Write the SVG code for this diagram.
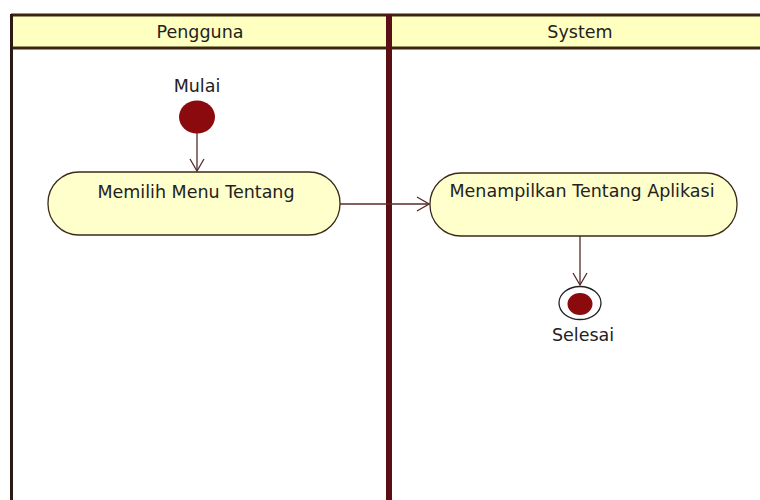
<svg xmlns="http://www.w3.org/2000/svg" width="760" height="500" viewBox="0 0 760 500">
<style>
.t{font-family:"DejaVu Sans","Liberation Sans",sans-serif;font-size:17.5px;fill:#222;text-anchor:middle}
.act{fill:#FFFFCC;stroke:#3a2a1a;stroke-width:1.3}
.con{stroke:#5a2a2a;stroke-width:1.3;fill:none}
</style>
<defs>
<marker id="arr" markerWidth="14" markerHeight="16" refX="13" refY="8" orient="auto" markerUnits="userSpaceOnUse">
<path d="M1,1 L13,8 L1,15" fill="none" stroke="#5a2a2a" stroke-width="1.3"/>
</marker>
</defs>
<rect width="760" height="500" fill="#fff"/>
<g id="lanes">
<rect x="11" y="15" width="749" height="33" fill="#FFFFC0"/>
<line x1="11" y1="15" x2="760" y2="15" stroke="#3c2410" stroke-width="3"/>
<line x1="11" y1="48" x2="760" y2="48" stroke="#3c2410" stroke-width="3"/>
<line x1="11.5" y1="14" x2="11.5" y2="500" stroke="#2e1a14" stroke-width="3"/>
<rect x="386" y="14" width="6" height="486" fill="#5a0f14"/>
<text class="t" x="200" y="38">Pengguna</text>
<text class="t" x="580" y="38">System</text>
</g>
<g id="connectors">
<line class="con" x1="197" y1="133" x2="197" y2="171" marker-end="url(#arr)"/>
<line class="con" x1="340" y1="204" x2="429" y2="204" marker-end="url(#arr)"/>
<line class="con" x1="580" y1="236" x2="580" y2="285" marker-end="url(#arr)"/>
</g>
<g id="start">
<ellipse cx="197" cy="117" rx="18" ry="16.5" fill="#8a0a0e"/>
<text class="t" x="197" y="92">Mulai</text>
</g>
<g id="act1">
<rect class="act" x="48" y="172" width="292" height="63" rx="31" ry="31"/>
<text class="t" x="196" y="198">Memilih Menu Tentang</text>
</g>
<g id="act2">
<rect class="act" x="430" y="173" width="307" height="63" rx="31" ry="31"/>
<text class="t" x="582" y="197">Menampilkan Tentang Aplikasi</text>
</g>
<g id="end">
<ellipse cx="580" cy="303" rx="21" ry="16.5" fill="#fff" stroke="#222" stroke-width="1.3"/>
<ellipse cx="580" cy="304" rx="12.5" ry="11" fill="#8a0a0e"/>
<text class="t" x="583" y="341">Selesai</text>
</g>
</svg>
